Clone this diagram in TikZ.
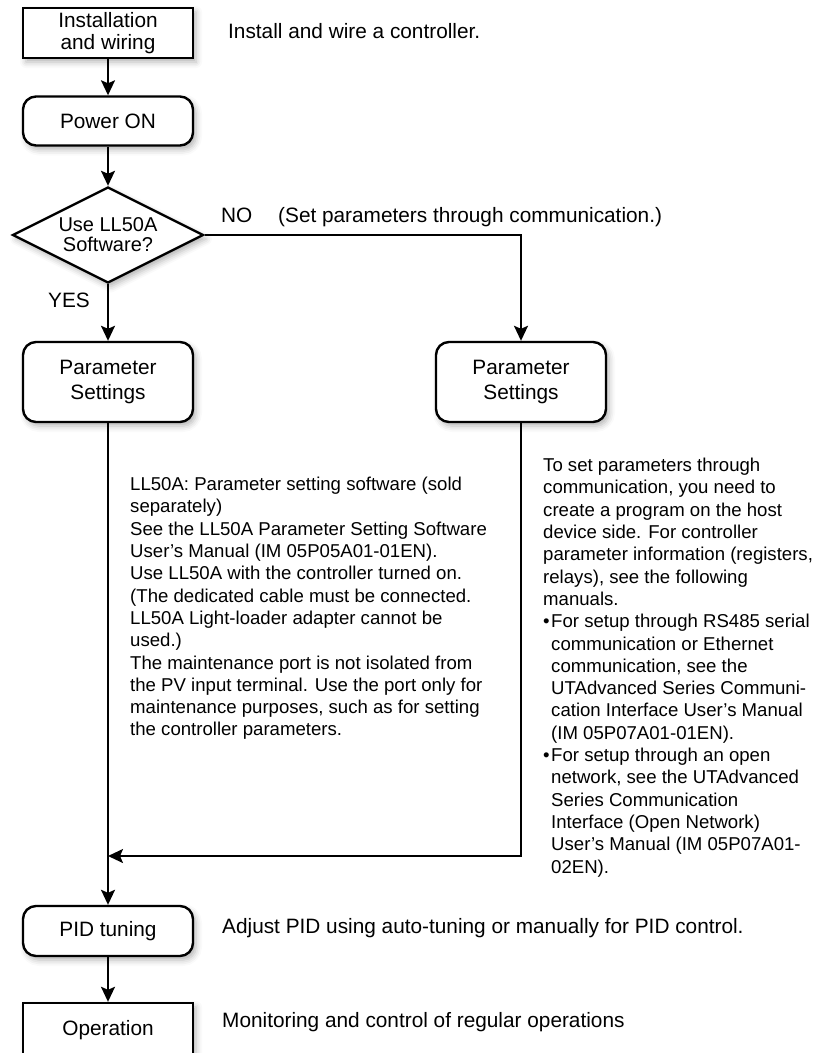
\documentclass[tikz,border=0pt]{standalone}
\usepackage{fontspec}
\setmainfont{Liberation Sans}
\usetikzlibrary{shapes.geometric,arrows.meta,shadows.blur}
\tikzset{
    box/.style={draw, line width=2.4pt, fill=white, minimum width=170pt, align=center,
        font=\fontsize{20.8}{21.7}\selectfont,
        blur shadow={shadow xshift=3pt, shadow yshift=-4pt, shadow blur radius=6pt, shadow opacity=30}},
    roundbox/.style={box, rounded corners=13pt},
    tallbox/.style={roundbox, minimum height=80pt, font=\fontsize{20.8}{25}\selectfont},
    decision/.style={box, diamond, aspect=2, inner sep=0pt, minimum width=191pt, minimum height=96pt,
        font=\fontsize{20}{20}\selectfont},
    flow/.style={line width=2pt, -{Stealth[length=15pt, width=14pt, inset=3pt]}},
    label/.style={font=\fontsize{20.8}{22.3}\selectfont, inner sep=0pt},
    note/.style={font=\fontsize{18.6}{22.3}\selectfont, align=left, inner sep=0pt}
}
\begin{document}
\begin{tikzpicture}[x=1pt, y=-1pt]
            \useasboundingbox (0,0) rectangle (819,1053);
            \node[box, minimum height=50pt] (inst) at (108,33) {Installation\\and wiring};
            \node[roundbox, minimum height=49pt] (power) at (108,121) {Power ON};
            \node[decision] (llsoft) at (108,235) {Use LL50A\\Software?};
            \node[tallbox] (paramL) at (108,382) {Parameter\\Settings};
            \node[tallbox] (paramR) at (521,382) {Parameter\\Settings};
            \node[roundbox, minimum height=50pt] (pid) at (108,931) {PID tuning};
            \node[box, minimum height=54pt] (oper) at (108,1030) {Operation};
            \coordinate (merge) at (108,856);

            \draw[flow] (inst) -- (power);
            \draw[flow] (power) -- (llsoft);
            \draw[flow] (llsoft) -- (paramL);
            \draw[flow] (llsoft.east) -| (paramR.north);
            \draw[flow] (paramL) -- (pid);
            \draw[flow] (paramR) |- (merge);
            \draw[flow] (pid) -- (oper);

            \node[label, anchor=base west] (instnote) at (228,38.5) {Install and wire a controller.};
            \node[label, anchor=base west] (yes) at (48,307) {YES};
            \node[label, anchor=base west] (no) at (221,222) {NO};
            \node[label, anchor=base west] (nonote) at (278,222) {(Set parameters through communication.)};
            \node[note, anchor=north west] (softnote) at (130,477) {LL50A: Parameter setting software (sold\\
                separately)\\
                See the LL50A Parameter Setting Software\\
                User’s Manual (IM 05P05A01-01EN).\\
                Use LL50A with the controller turned on.\\
                (The dedicated cable must be connected.\\
                LL50A Light-loader adapter cannot be\\
                used.)\\
                The maintenance port is not isolated from\\
                the PV input terminal. Use the port only for\\
                maintenance purposes, such as for setting\\
                the controller parameters.};
            \node[note, anchor=north west] (commnote) at (543,458) {To set parameters through\\
                communication, you need to\\
                create a program on the host\\
                device side. For controller\\
                parameter information (registers,\\
                relays), see the following\\
                manuals.\\
                \makebox[8pt][l]{•}For setup through RS485 serial\\
                \hspace*{8pt}communication or Ethernet\\
                \hspace*{8pt}communication, see the\\
                \hspace*{8pt}UTAdvanced Series Communi-\\
                \hspace*{8pt}cation Interface User’s Manual\\
                \hspace*{8pt}(IM 05P07A01-01EN).\\
                \makebox[8pt][l]{•}For setup through an open\\
                \hspace*{8pt}network, see the UTAdvanced\\
                \hspace*{8pt}Series Communication\\
                \hspace*{8pt}Interface (Open Network)\\
                \hspace*{8pt}User’s Manual (IM 05P07A01-\\
                \hspace*{8pt}02EN).};
            \node[label, anchor=base west] (pidnote) at (222,933) {Adjust PID using auto-tuning or manually for PID control.};
            \node[label, anchor=base west] (opnote) at (222,1027) {Monitoring and control of regular operations};
        \end{tikzpicture}
\end{document}
